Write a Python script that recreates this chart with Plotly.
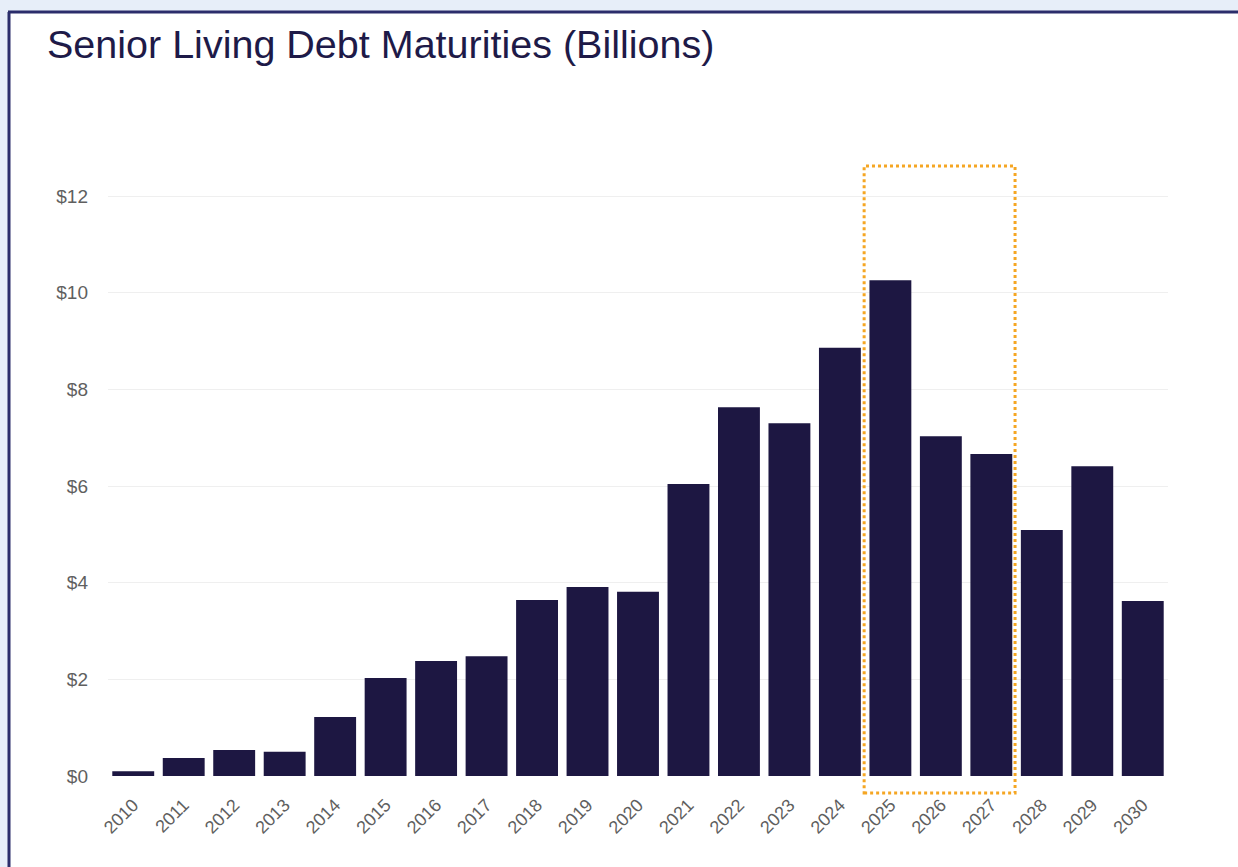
import plotly.graph_objects as go

years = [str(y) for y in range(2010, 2031)]
values = [0.10, 0.37, 0.54, 0.50, 1.22, 2.03, 2.38, 2.48, 3.64, 3.91, 3.81,
          6.04, 7.63, 7.30, 8.86, 10.26, 7.03, 6.66, 5.09, 6.41, 3.62]
y_ticks = [0, 2, 4, 6, 8, 10, 12]
y_tick_labels = ["$0", "$2", "$4", "$6", "$8", "$10", "$12"]
highlight = ["2025", "2027"]

W, H = 1238, 867
L, R, T, B = 108, 70, 150, 91
pw, ph = W - L - R, H - T - B

def px_x(p):
    return (p - L) / pw

def px_y(p):
    return (H - B - p) / ph

fig = go.Figure()
fig.add_trace(go.Bar(x=years, y=values, marker=dict(color="#1d1742", line=dict(width=0)),
                     hoverinfo="x+y"))

i0 = years.index(highlight[0])
i1 = years.index(highlight[1])

frame_col = "#2b2d6b"
shapes = [
    # white card
    dict(type="rect", xref="paper", yref="paper", layer="below",
         x0=px_x(9), x1=px_x(1238), y0=px_y(867), y1=px_y(12),
         fillcolor="white", line=dict(width=0, color="white")),
    # left border
    dict(type="line", xref="paper", yref="paper", layer="below",
         x0=px_x(9), x1=px_x(9), y0=px_y(867), y1=px_y(12),
         line=dict(color=frame_col, width=3)),
    # top border
    dict(type="line", xref="paper", yref="paper", layer="below",
         x0=px_x(8), x1=px_x(1238), y0=px_y(12), y1=px_y(12),
         line=dict(color=frame_col, width=3)),
    # highlight box
    dict(type="rect", xref="x", yref="paper", layer="above",
         x0=i0 - 0.52, x1=i1 + 0.47, y0=px_y(793), y1=px_y(166),
         fillcolor="rgba(0,0,0,0)", line=dict(color="#f5a623", width=3, dash="dot")),
]

fig.update_layout(
    width=W, height=H,
    margin=dict(l=L, r=R, t=T, b=B),
    paper_bgcolor="#e7eef9",
    plot_bgcolor="white",
    bargap=0.17,
    showlegend=False,
    shapes=shapes,
    font=dict(family="Liberation Sans, Arial, sans-serif"),
    title=dict(text="Senior Living Debt Maturities (Billions)",
               x=47 / W, xanchor="left", xref="container",
               y=1 - 44 / H, yanchor="middle", yref="container",
               font=dict(size=39.5, color="#1e1a48")),
)
fig.update_xaxes(type="category", tickangle=-45, showgrid=False, zeroline=False,
                 showline=False, ticks="",
                 ticklabelstandoff=14,
                 tickfont=dict(size=18, color="#5f5f5f"),
                 range=[-0.5, len(years) - 0.5])
fig.update_yaxes(range=[0, ph / 48.33], tickvals=y_ticks, ticktext=y_tick_labels,
                 showgrid=True, gridcolor="#efefef", gridwidth=1,
                 zeroline=False, showline=False, ticks="",
                 ticklabelstandoff=19,
                 tickfont=dict(size=19, color="#5f5f5f"))

fig.write_html("out.html", config={"displayModeBar": False})
